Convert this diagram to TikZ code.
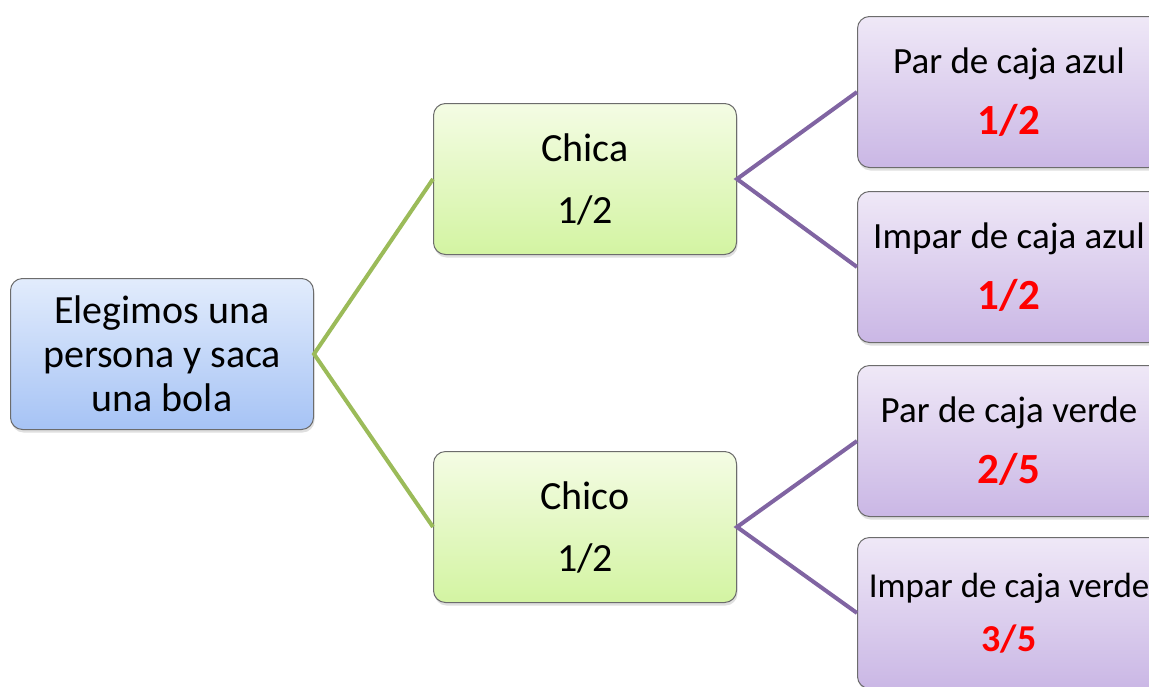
\documentclass[tikz,border=0pt]{standalone}
\usepackage{fontspec}
\setmainfont{Carlito}
\usetikzlibrary{positioning,shadows}
\definecolor{rootTop}{HTML}{E2ECFC}
\definecolor{rootBot}{HTML}{A6C3F5}
\definecolor{sexTop}{HTML}{F4FCE4}
\definecolor{sexBot}{HTML}{D3F4A2}
\definecolor{ballTop}{HTML}{EFE8F7}
\definecolor{ballBot}{HTML}{CAB7E5}
\definecolor{greenLine}{HTML}{9BBB59}
\definecolor{purpleLine}{HTML}{8064A2}
\definecolor{probRed}{HTML}{FF0000}
\newcommand{\prob}[2][43]{{\fontsize{#1}{61}\selectfont\color{probRed}\bfseries #2}}
\tikzset{
tree/.style={x=1pt,y=-1pt},
box/.style={rectangle,rounded corners=12pt,draw=gray!85!black,line width=1pt,
minimum width=303pt,minimum height=151pt,align=center,inner sep=0pt,
drop shadow={shadow xshift=1pt,shadow yshift=-3pt,opacity=0.25}},
root/.style={box,top color=rootTop,bottom color=rootBot,
font=\fontsize{40}{44}\selectfont},
sex/.style={box,top color=sexTop,bottom color=sexBot,
font=\fontsize{40}{62}\selectfont},
ball/.style={box,top color=ballTop,bottom color=ballBot,
font=\fontsize{37}{61}\selectfont},
branch/.style={line width=4pt},
}
\begin{document}
\begin{tikzpicture}[tree]
\useasboundingbox (0,0) rectangle (1149,686);
\clip (0,0) rectangle (1149,686);
\node[root] (r) at (162,354) {Elegimos una\\persona y saca\\una bola};

\node[sex] (chica) at (585,179) {Chica\\1/2};
\node[sex] (chico) at (585,527) {Chico\\1/2};

\node[ball] (pa) at (1009,92) {Par de caja azul\\\prob{1/2}};
\node[ball] (ia) at (1009,267) {Impar de caja azul\\\prob{1/2}};
\node[ball] (pv) at (1009,441) {Par de caja verde\\\prob{2/5}};
\node[ball,font=\fontsize{35}{54}\selectfont] (iv) at (1009,613) {Impar de caja verde\\\prob[38]{3/5}};

\draw[branch,greenLine] (chica.west) -- (r.east) -- (chico.west);
\draw[branch,purpleLine] (pa.west) -- (chica.east) -- (ia.west);
\draw[branch,purpleLine] (pv.west) -- (chico.east) -- (iv.west);
\end{tikzpicture}
\end{document}
